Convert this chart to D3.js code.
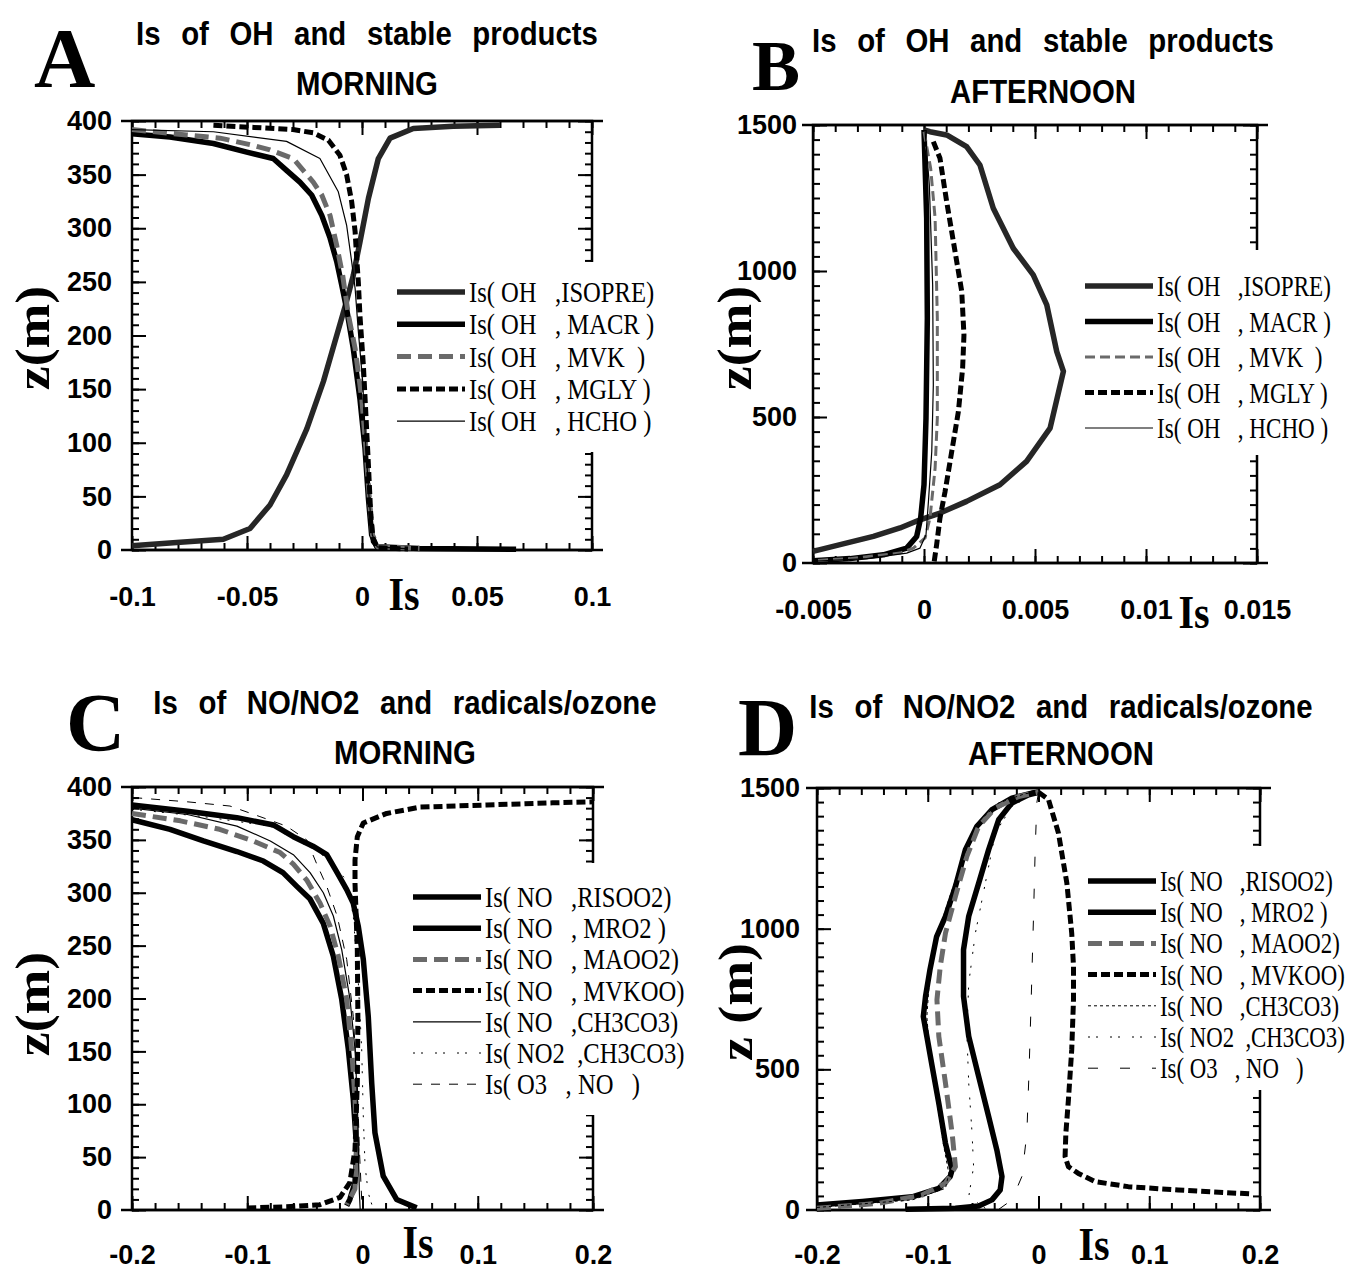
<!DOCTYPE html>
<html>
<head>
<meta charset="utf-8">
<style>
  body { margin: 0; background: white; }
  svg { display: block; }
</style>
</head>
<body>
<svg id="fig" width="1347" height="1270"></svg>
<script src="https://d3js.org/d3.v7.min.js"></script>
<script>
// ---- data: [Is, z(m)] pairs ----
var A_ISOPRE = [[-0.1,4],[-0.0806,7],[-0.0603,10],[-0.0487,20],[-0.04,42],[-0.0328,70],[-0.024,113],[-0.0168,157],[-0.011,200],[-0.0067,232],[-0.0038,256],[-0.0009,287],[0.0028,328],[0.0071,365],[0.0122,384],[0.0223,393],[0.0397,395],[0.06,396]];
var A_MACR = [[-0.1,388],[-0.0835,385],[-0.0646,379],[-0.0501,371],[-0.0386,365],[-0.0328,354],[-0.027,343],[-0.0219,331],[-0.0175,312],[-0.0139,291],[-0.011,269],[-0.0088,247],[-0.0067,225],[-0.0038,188],[-0.0009,141],[0.0013,95],[0.0028,48],[0.0042,14],[0.0064,3],[0.025,1.5],[0.067,0.6]];
var A_MVK = [[-0.1,392],[-0.0762,387],[-0.0617,384],[-0.0487,378],[-0.04,373],[-0.0299,365],[-0.0212,343],[-0.0175,331],[-0.0139,312],[-0.011,284],[-0.0084,256],[-0.0059,219],[-0.003,188],[-0.0001,141],[0.0017,95],[0.0032,48],[0.0046,14],[0.0068,3],[0.025,1.5]];
var A_MGLY = [[-0.0646,396],[-0.047,394],[-0.03,392],[-0.0212,389],[-0.0146,382],[-0.0096,368],[-0.0067,350],[-0.0045,325],[-0.003,297],[-0.0023,272],[-0.0016,250],[-0.0009,219],[0.0006,172],[0.0017,126],[0.0028,79],[0.0038,33],[0.0049,8],[0.007,2],[0.02,1]];
var A_HCHO = [[-0.1,392],[-0.0646,390],[-0.0328,381],[-0.0183,365],[-0.0103,334],[-0.0067,303],[-0.0045,269],[-0.003,244],[-0.0016,204],[0.0003,157],[0.0017,95],[0.0031,48],[0.0045,14],[0.0066,3],[0.02,1]];

var B_ISOPRE = [[-0.005,40],[-0.00378,63],[-0.00228,91],[-0.00108,120],[-0.00018,148],[0.00072,171],[0.00192,211],[0.00342,268],[0.00462,348],[0.00568,462],[0.00628,656],[0.00598,724],[0.00553,884],[0.00492,987],[0.00402,1078],[0.00312,1215],[0.00252,1363],[0.00192,1426],[0.00102,1466],[0.00027,1477],[0,1483]];
var B_MACR = [[0,1483],[0.00012,1181],[0.00015,838],[0.00009,496],[0,268],[-0.00015,154],[-0.00033,91],[-0.00078,51],[-0.00183,28],[-0.00333,15],[-0.005,8]];
var B_MVK = [[0,1477],[0.0003,1352],[0.0005,1181],[0.0006,838],[0.0006,496],[0.0005,325],[0.00027,154],[0.00005,86],[-0.00048,51],[-0.00108,34],[-0.00333,15],[-0.005,8]];
var B_MGLY = [[0.00042,1443],[0.00072,1386],[0.00102,1238],[0.0014,1066],[0.0017,930],[0.0018,781],[0.00174,667],[0.00155,519],[0.00125,382],[0.00095,245],[0.00072,154],[0.00057,63],[0.00045,0]];
var B_HCHO = [[0.00005,1477],[0.00024,1295],[0.00039,952],[0.00042,610],[0.00035,382],[0.0002,211],[0.00009,97],[-0.00018,51],[-0.00078,34],[-0.00258,15],[-0.005,6]];

var C_RISOO2 = [[-0.2,383],[-0.152,377],[-0.109,371],[-0.077,364],[-0.06,353],[-0.043,344],[-0.031,336],[-0.022,319],[-0.0137,303],[-0.008,290],[-0.0036,268],[0.0007,237],[0.005,183],[0.008,120],[0.0108,73],[0.018,32],[0.0296,10],[0.047,2]];
var C_MRO2 = [[-0.2,369],[-0.167,360],[-0.138,349],[-0.109,339],[-0.086,330],[-0.069,319],[-0.057,306],[-0.0455,294],[-0.034,271],[-0.0253,240],[-0.018,199],[-0.0123,152],[-0.008,105],[-0.005,57],[-0.0065,26],[-0.011,10],[-0.0137,4]];
var C_MAOO2 = [[-0.2,375],[-0.158,368],[-0.124,360],[-0.095,349],[-0.0715,338],[-0.06,327],[-0.0484,312],[-0.0368,290],[-0.028,268],[-0.021,240],[-0.0137,199],[-0.0094,152],[-0.0065,105],[-0.005,57],[-0.0065,20],[-0.0137,5]];
var C_MVKOO = [[-0.1,2],[-0.066,3],[-0.037,5],[-0.0195,12],[-0.011,26],[-0.0065,57],[-0.0045,120],[-0.004,183],[-0.0045,246],[-0.0065,309],[-0.0065,331],[-0.0045,353],[0.0007,366],[0.021,375],[0.05,381],[0.108,383],[0.165,385],[0.2,386]];
var C_NO_CH3CO3 = [[-0.2,380],[-0.152,374],[-0.109,363],[-0.08,349],[-0.06,336],[-0.0455,319],[-0.034,300],[-0.0253,278],[-0.018,246],[-0.0108,199],[-0.0065,152],[-0.0045,105],[-0.0036,57],[-0.0027,16],[-0.002,0.5]];
var C_NO2_CH3CO3 = [[-0.2,379],[-0.138,372],[-0.08,363],[-0.037,338],[-0.0137,312],[-0.008,278],[-0.0036,215],[-0.0007,152],[0.0007,89],[0.0022,42],[0.005,16],[0.0094,0.6]];
var C_O3_NO = [[-0.199,390],[-0.152,386],[-0.115,382],[-0.089,372],[-0.066,363],[-0.0484,350],[-0.04,328],[-0.031,306],[-0.022,278],[-0.0137,237],[-0.008,183],[-0.0045,120],[-0.0027,57],[-0.0007,10],[0.0007,0.5]];

var D_RISOO2 = [[-0.2,18],[-0.159,30],[-0.114,47],[-0.09,77],[-0.0797,119],[-0.078,142],[-0.084,237],[-0.09,379],[-0.096,510],[-0.1008,617],[-0.104,688],[-0.102,759],[-0.098,854],[-0.092,972],[-0.084,1044],[-0.075,1150],[-0.066,1281],[-0.0556,1364],[-0.042,1423],[-0.024,1464],[-0.006,1482],[0,1485]];
var D_MRO2 = [[-0.12,3],[-0.075,6],[-0.054,14],[-0.042,36],[-0.0346,71],[-0.033,119],[-0.0376,213],[-0.045,332],[-0.054,474],[-0.063,617],[-0.0677,759],[-0.0677,925],[-0.063,1044],[-0.054,1162],[-0.045,1281],[-0.036,1387],[-0.024,1447],[-0.009,1476],[0,1485]];
var D_MAOO2 = [[-0.2,6],[-0.144,24],[-0.105,53],[-0.084,95],[-0.075,154],[-0.078,273],[-0.084,451],[-0.09,617],[-0.0917,747],[-0.0887,866],[-0.084,984],[-0.075,1115],[-0.0647,1257],[-0.054,1364],[-0.039,1429],[-0.018,1470],[0,1485]];
var D_MVKOO = [[0,1485],[0.009,1459],[0.018,1340],[0.0256,1162],[0.03,984],[0.0316,866],[0.0316,747],[0.03,569],[0.027,391],[0.0247,273],[0.024,190],[0.027,154],[0.036,130],[0.051,101],[0.081,83],[0.126,71],[0.192,57]];
var D_NO_CH3CO3 = [[-0.2,9],[-0.114,36],[-0.084,77],[-0.081,130],[-0.086,237],[-0.092,391],[-0.098,545],[-0.1008,688],[-0.0987,806],[-0.093,949],[-0.084,1067],[-0.072,1210],[-0.057,1370],[-0.036,1447],[-0.012,1480],[0,1485]];
var D_NO2_CH3CO3 = [[-0.048,6],[-0.063,47],[-0.0586,154],[-0.06,273],[-0.063,451],[-0.0647,628],[-0.063,806],[-0.057,984],[-0.048,1162],[-0.039,1340],[-0.024,1435],[-0.003,1482]];
var D_O3_NO = [[-0.036,2],[-0.024,36],[-0.015,119],[-0.0105,273],[-0.0084,510],[-0.0066,747],[-0.0045,1044],[-0.003,1281],[-0.0015,1447],[0,1485]];

// ---- ticks and labels ----
var A_XTICKS = [-0.1, -0.05, 0, 0.05, 0.1], A_XLABELS = ["-0.1", "-0.05", "0", "0.05", "0.1"];
var A_YTICKS = [0, 50, 100, 150, 200, 250, 300, 350, 400];
var B_XTICKS = [-0.005, 0, 0.005, 0.01, 0.015], B_XLABELS = ["-0.005", "0", "0.005", "0.01", "0.015"];
var B_YTICKS = [0, 500, 1000, 1500];
var C_XTICKS = [-0.2, -0.1, 0, 0.1, 0.2], C_XLABELS = ["-0.2", "-0.1", "0", "0.1", "0.2"];
var C_YTICKS = [0, 50, 100, 150, 200, 250, 300, 350, 400];
var D_XTICKS = [-0.2, -0.1, 0, 0.1, 0.2], D_XLABELS = ["-0.2", "-0.1", "0", "0.1", "0.2"];
var D_YTICKS = [0, 500, 1000, 1500];

var OH_LEGEND = ["Is( OH   ,ISOPRE)", "Is( OH   , MACR )", "Is( OH   , MVK  )", "Is( OH   , MGLY )", "Is( OH   , HCHO )"];
var NO_LEGEND = ["Is( NO   ,RISOO2)", "Is( NO   , MRO2 )", "Is( NO   , MAOO2)", "Is( NO   , MVKOO)", "Is( NO   ,CH3CO3)", "Is( NO2  ,CH3CO3)", "Is( O3   , NO   )"];

// line styles
var textured = {stroke: "#262626", width: 5.5},
    thick = {stroke: "#000", width: 5.5},
    grayDash = {stroke: "#6a6a6a", width: 5, dash: "14,7"},
    grayDashThin = {stroke: "#6a6a6a", width: 3, dash: "10,5"},
    blackDash = {stroke: "#000", width: 5, dash: "9,4"},
    thin = {stroke: "#000", width: 1.2},
    thinDash = {stroke: "#000", width: 1, dash: "9,9"},
    thinShort = {stroke: "#000", width: 1, dash: "3,3"},
    thinDots = {stroke: "#000", width: 1, dash: "2,6,2,12"},
    sparse = {stroke: "#000", width: 1, dash: "10,22"};

var panels = [
  {letter: "A", lx: 34, ly: 86.5, lsize: 85,
   title: ["Is of OH and stable products", "MORNING"], tx: 367, ty: [45, 95],
   left: 132, right: 592, top: 121, bottom: 550,
   xdom: [-0.1, 0.1], ydom: [0, 400], xminor: 0.01, yminor: 10,
   xticks: A_XTICKS, xlabels: A_XLABELS, yticks: A_YTICKS, xpad: 37, ypad: 20,
   isx: 404, isy: 610, zx: 32, zy: 338, zlabel: "z(m)",
   series: [A_ISOPRE, A_MACR, A_MVK, A_MGLY, A_HCHO],
   styles: [textured, thick, grayDash, blackDash, thin],
   legend: OH_LEGEND, legX: 397, legY: 292, legStep: 32.3, legScale: 0.82, legBox: [392, 262, 218, 190]},
  {letter: "B", lx: 752, ly: 90, lsize: 72,
   title: ["Is of OH and stable products", "AFTERNOON"], tx: 1043, ty: [52, 103],
   left: 813, right: 1257, top: 125, bottom: 563,
   xdom: [-0.005, 0.015], ydom: [0, 1500], xminor: 0.001, yminor: 50,
   xticks: B_XTICKS, xlabels: B_XLABELS, yticks: B_YTICKS, xpad: 37, ypad: 16,
   isx: 1194, isy: 628, zx: 734, zy: 338, zlabel: "z(m)",
   series: [B_ISOPRE, B_MACR, B_MVK, B_MGLY, B_HCHO],
   styles: [textured, thick, grayDashThin, blackDash, thin],
   legend: OH_LEGEND, legX: 1085, legY: 286, legStep: 35.5, legScale: 0.77, legBox: [1080, 250, 267, 205]},
  {letter: "C", lx: 66, ly: 750, lsize: 82,
   title: ["Is of NO/NO2 and radicals/ozone", "MORNING"], tx: 405, ty: [714, 764],
   left: 132, right: 593, top: 787, bottom: 1210,
   xdom: [-0.2, 0.2], ydom: [0, 400], xminor: 0.02, yminor: 10,
   xticks: C_XTICKS, xlabels: C_XLABELS, yticks: C_YTICKS, xpad: 35, ypad: 20,
   isx: 418, isy: 1258, zx: 32, zy: 1004, zlabel: "z(m)",
   series: [C_RISOO2, C_MRO2, C_MAOO2, C_MVKOO, C_NO_CH3CO3, C_NO2_CH3CO3, C_O3_NO],
   styles: [thick, thick, grayDash, blackDash, thin, thinDots, thinDash],
   legend: NO_LEGEND, legX: 413, legY: 897, legStep: 31.2, legScale: 0.82, legBox: [405, 863, 280, 252]},
  {letter: "D", lx: 738, ly: 755, lsize: 82,
   title: ["Is of NO/NO2 and radicals/ozone", "AFTERNOON"], tx: 1061, ty: [718, 765],
   left: 817, right: 1260, top: 788, bottom: 1210,
   xdom: [-0.2, 0.2], ydom: [0, 1500], xminor: 0.02, yminor: 50,
   xticks: D_XTICKS, xlabels: D_XLABELS, yticks: D_YTICKS, xpad: 35, ypad: 17,
   isx: 1094, isy: 1260, zx: 735, zy: 1002, zlabel: "z (m)",
   series: [D_RISOO2, D_MRO2, D_MAOO2, D_MVKOO, D_NO_CH3CO3, D_NO2_CH3CO3, D_O3_NO],
   styles: [thick, thick, grayDash, blackDash, thinShort, thinDots, sparse],
   legend: NO_LEGEND, legX: 1088, legY: 881, legStep: 31.2, legScale: 0.76, legBox: [1080, 846, 267, 244]}
];

var svg = d3.select("#fig");
var SANS = "'Liberation Sans', Arial, Helvetica, sans-serif";
var SERIF = "'Liberation Serif', 'Times New Roman', serif";

function stepValues(dom, step) {
  var n = Math.round((dom[1] - dom[0]) / step);
  return d3.range(n + 1).map(function(i) { return dom[0] + i * step; });
}

function drawPanel(p) {
  var g = svg.append("g");
  var x = d3.scaleLinear().domain(p.xdom).range([p.left, p.right]);
  var y = d3.scaleLinear().domain(p.ydom).range([p.bottom, p.top]);

  var xMinor = stepValues(p.xdom, p.xminor), yMinor = stepValues(p.ydom, p.yminor);

  // inward pointing ticks on all four sides
  var sides = [
    {axis: d3.axisBottom, scale: x, t: "translate(0," + p.bottom + ")", minor: xMinor, major: p.xticks},
    {axis: d3.axisTop, scale: x, t: "translate(0," + p.top + ")", minor: xMinor, major: p.xticks},
    {axis: d3.axisLeft, scale: y, t: "translate(" + p.left + ",0)", minor: yMinor, major: p.yticks},
    {axis: d3.axisRight, scale: y, t: "translate(" + p.right + ",0)", minor: yMinor, major: p.yticks}
  ];
  sides.forEach(function(s) {
    var m = g.append("g").attr("transform", s.t)
      .call(s.axis(s.scale).tickValues(s.minor).tickSize(-7).tickSizeOuter(0).tickFormat(""));
    var M = g.append("g").attr("transform", s.t)
      .call(s.axis(s.scale).tickValues(s.major).tickSize(-14).tickSizeOuter(0).tickFormat(""));
    [m, M].forEach(function(a) {
      a.select(".domain").remove();
      a.selectAll("line").attr("stroke", "#000").attr("stroke-width", 2);
    });
  });

  // tick labels
  var xl = g.append("g").attr("transform", "translate(0," + p.bottom + ")")
    .call(d3.axisBottom(x).tickValues(p.xticks).tickSize(0).tickPadding(p.xpad)
      .tickFormat(function(d, i) { return p.xlabels[i]; }));
  var yl = g.append("g").attr("transform", "translate(" + p.left + ",0)")
    .call(d3.axisLeft(y).tickValues(p.yticks).tickSize(0).tickPadding(p.ypad).tickFormat(d3.format("d")));
  [xl, yl].forEach(function(a) {
    a.select(".domain").remove();
    a.selectAll("text").style("font-family", SANS).style("font-weight", "bold")
      .style("font-size", "27px").attr("fill", "#000");
  });

  // frame
  g.append("rect").attr("x", p.left).attr("y", p.top)
    .attr("width", p.right - p.left).attr("height", p.bottom - p.top)
    .attr("fill", "none").attr("stroke", "#000").attr("stroke-width", 2.5);
  [p.top, p.bottom].forEach(function(yy) {
    g.append("line").attr("x1", p.left - 11).attr("x2", p.right + 11)
      .attr("y1", yy).attr("y2", yy).attr("stroke", "#000").attr("stroke-width", 2.5);
  });

  // curves
  var line = d3.line().x(function(d) { return x(d[0]); }).y(function(d) { return y(d[1]); });
  p.series.forEach(function(s, i) {
    var st = p.styles[i];
    g.append("path").attr("d", line(s)).attr("fill", "none")
      .attr("stroke", st.stroke).attr("stroke-width", st.width)
      .attr("stroke-dasharray", st.dash || null)
      .attr("stroke-linejoin", "round");
  });

  // legend on a white box that hides the right axis
  var b = p.legBox;
  g.append("rect").attr("x", b[0]).attr("y", b[1]).attr("width", b[2]).attr("height", b[3]).attr("fill", "white");
  p.legend.forEach(function(t, i) {
    var st = p.styles[i], yy = p.legY + i * p.legStep;
    g.append("line").attr("x1", p.legX).attr("x2", p.legX + 68).attr("y1", yy).attr("y2", yy)
      .attr("stroke", st.stroke).attr("stroke-width", st.width).attr("stroke-dasharray", st.dash || null);
    g.append("text").attr("transform", "translate(" + (p.legX + 72) + "," + (yy + 10) + ") scale(" + p.legScale + ",1)")
      .style("white-space", "pre").style("font-family", SERIF).style("font-size", "30px")
      .text(t);
  });

  // titles
  p.title.forEach(function(t, i) {
    g.append("text").attr("transform", "translate(" + p.tx + "," + p.ty[i] + ") scale(0.89,1)")
      .attr("text-anchor", "middle").style("white-space", "pre")
      .style("font-family", SANS).style("font-weight", "bold").style("font-size", "33px")
      .style("word-spacing", i === 0 ? "14px" : "0px")
      .text(t);
  });

  // panel letter
  g.append("text").attr("x", p.lx).attr("y", p.ly).style("font-family", SERIF)
    .style("font-weight", "bold").style("font-size", p.lsize + "px").text(p.letter);

  // axis titles
  g.append("text").attr("transform", "translate(" + p.isx + "," + p.isy + ") scale(0.85,1)")
    .attr("text-anchor", "middle").style("font-family", SERIF).style("font-weight", "bold")
    .style("font-size", "47px").text("Is");
  g.append("text").attr("transform", "translate(" + p.zx + "," + p.zy + ") rotate(-90) scale(1.12,1)")
    .attr("text-anchor", "middle").attr("dy", "0.35em").style("white-space", "pre")
    .style("font-family", SERIF).style("font-weight", "bold").style("font-size", "48px")
    .text(p.zlabel);
}

panels.forEach(drawPanel);
</script>
</body>
</html>
